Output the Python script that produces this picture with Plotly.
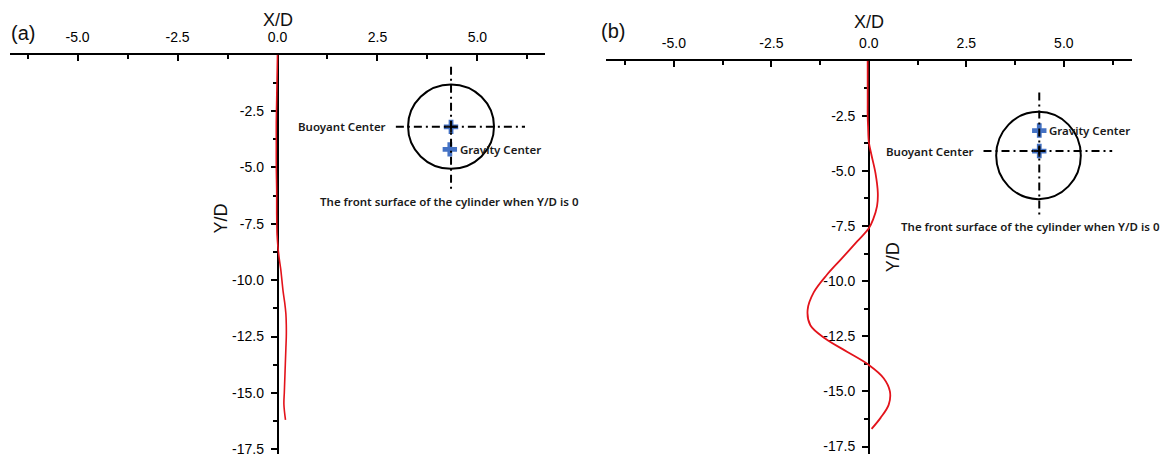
import plotly.graph_objects as go

# wake trajectory of panel (a): Y/D positions and X/D offsets
a_yd = [0, -1, -2, -3, -4, -5, -6, -7, -8, -8.5, -9, -9.5, -10, -10.5, -11,
        -11.5, -12, -12.5, -13, -13.5, -14, -14.5, -15, -15.5, -16.2]
a_xd = [0.0, -0.01, -0.02, -0.03, -0.03, -0.03, -0.02, -0.02, -0.01, 0.01, 0.04,
        0.08, 0.11, 0.14, 0.18, 0.21, 0.22, 0.22, 0.21, 0.2, 0.19, 0.18, 0.17,
        0.16, 0.2]

# wake trajectory of panel (b)
b_yd = [0, -1, -2, -2.5, -3, -3.7, -4.3, -5.1, -6.0, -6.6, -7.2, -7.6, -8.2,
        -9.0, -9.7, -10.5, -11.3, -12.0, -12.6, -13.2, -13.8, -14.4, -15.0,
        -15.6, -16.2, -16.7]
b_xd = [-0.03, -0.03, -0.03, -0.03, -0.02, 0.0, 0.07, 0.17, 0.23, 0.21, 0.11,
        0.0, -0.3, -0.71, -1.07, -1.41, -1.57, -1.5, -1.12, -0.56, 0.0, 0.38,
        0.54, 0.51, 0.3, 0.07]

# cylinder sketch: centres of buoyancy and gravity (X/D, Y/D)
a_buoyant = (4.34, -3.2)
a_gravity = (4.31, -4.2)
b_buoyant = (4.37, -4.1)
b_gravity = (4.37, -3.17)

x_ticks = [-5.0, -2.5, 0.0, 2.5, 5.0]
y_ticks = [-17.5, -15.0, -12.5, -10.0, -7.5, -5.0, -2.5]
y_minor = [-1.25, -3.75, -6.25, -8.75, -11.25, -13.75, -16.25]

# the page body adds an 8px margin, so the figure is a bit smaller
OFF = 8
W, H = 1170 - OFF, 457 - OFF


def px(x):
    return (x - OFF) / W


def py(y):
    return 1 - (y - OFF) / H


red = "#e3131b"
blue = "#4472c4"
dashdot = "8px,4px,2px,4px"
tick_font = dict(family="Liberation Sans", size=14, color="#000000")
note_font = dict(family="Noto Sans", size=11.5, color="#1a1a1a", weight=600)

fig = go.Figure()

fig.add_scatter(x=a_xd, y=a_yd, xaxis="x", yaxis="y", mode="lines",
                line=dict(color=red, width=1.6, shape="spline"),
                showlegend=False, hoverinfo="skip")
fig.add_scatter(x=b_xd, y=b_yd, xaxis="x2", yaxis="y2", mode="lines",
                line=dict(color=red, width=1.8, shape="spline"),
                showlegend=False, hoverinfo="skip")


def add_sketch(fig, xr, yr, buoyant, gravity, circle, hline, vline, note_x):
    # blue crosses for the two centres
    fig.add_scatter(x=[buoyant[0], gravity[0]], y=[buoyant[1], gravity[1]],
                    xaxis=xr, yaxis=yr, mode="markers",
                    marker=dict(symbol="cross", size=12, color=blue),
                    showlegend=False, hoverinfo="skip")
    # cylinder outline
    cx, cy, rx, ry = circle
    fig.add_shape(type="circle", xref=xr, yref=yr, x0=cx - rx, x1=cx + rx,
                  y0=cy - ry, y1=cy + ry, line=dict(color="black", width=2),
                  layer="above")
    # dash-dot crosshair
    fig.add_shape(type="line", xref=xr, yref=yr, x0=hline[0], x1=hline[1],
                  y0=buoyant[1], y1=buoyant[1],
                  line=dict(color="black", width=2, dash=dashdot), layer="above")
    fig.add_shape(type="line", xref=xr, yref=yr, x0=buoyant[0], x1=buoyant[0],
                  y0=vline[0], y1=vline[1],
                  line=dict(color="black", width=2, dash=dashdot), layer="above")
    fig.add_scatter(x=[buoyant[0]], y=[buoyant[1]], xaxis=xr, yaxis=yr,
                    mode="markers",
                    marker=dict(symbol="cross-thin", size=8,
                                line=dict(color="#111111", width=2)),
                    showlegend=False, hoverinfo="skip")
    # labels
    fig.add_annotation(x=hline[0] - 0.2, y=buoyant[1], xref=xr, yref=yr,
                       text="Buoyant Center", showarrow=False, xanchor="right",
                       font=note_font)
    fig.add_annotation(x=gravity[0] + 0.2, y=gravity[1], xref=xr, yref=yr,
                       text="Gravity Center", showarrow=False, xanchor="left",
                       font=note_font)
    fig.add_annotation(x=note_x, y=vline[1] - 0.45, xref=xr, yref=yr,
                       text="The front surface of the cylinder when Y/D is 0",
                       showarrow=False, xanchor="center", font=note_font)


add_sketch(fig, "x", "y", a_buoyant, a_gravity,
           circle=(4.34, -3.19, 1.075, 1.87), hline=(2.96, 6.19),
           vline=(-0.53, -6.08), note_x=4.31)
add_sketch(fig, "x2", "y2", b_buoyant, b_gravity,
           circle=(4.35, -4.3, 1.085, 1.98), hline=(2.94, 6.24),
           vline=(-1.44, -7.07), note_x=4.14)


def x_axis(domain, rng, anchor):
    return dict(domain=domain, range=rng, anchor=anchor, side="top",
                showline=True, linecolor="black", linewidth=1.5,
                layer="below traces",
                ticks="inside", ticklen=7, tickwidth=1.5, tickcolor="black",
                tickvals=x_ticks, ticktext=[f"{v:.1f}" for v in x_ticks],
                tickfont=tick_font, ticklabelstandoff=5,
                minor=dict(dtick=1.25, tick0=0, ticks="inside", ticklen=5,
                           tickwidth=1.5, tickcolor="black"),
                showgrid=False, zeroline=False, fixedrange=True)


def y_axis(domain, rng, position):
    return dict(domain=domain, range=rng, anchor="free", position=position,
                side="left", showline=True, linecolor="black", linewidth=1.5,
                layer="below traces",
                ticks="outside", ticklen=6, tickwidth=1.5, tickcolor="black",
                tickvals=y_ticks, ticktext=[f"{v:.1f}" for v in y_ticks],
                tickfont=tick_font, ticklabelstandoff=4,
                ticklabeloverflow="allow",
                minor=dict(tickvals=y_minor, ticks="outside", ticklen=4,
                           tickwidth=1.5, tickcolor="black"),
                showgrid=False, zeroline=False, fixedrange=True)


fig.update_layout(
    width=W, height=H,
    margin=dict(l=0, r=0, t=0, b=0),
    paper_bgcolor="white", plot_bgcolor="rgba(0,0,0,0)",
    xaxis=x_axis([px(10), px(545)], [-6.69, 6.69], "y"),
    yaxis=y_axis([0, py(55)], [-(457 - 55) / 22.7, 0], px(277.5)),
    xaxis2=x_axis([px(606), px(1131.7)], [-6.74, 6.74], "y2"),
    yaxis2=y_axis([0, py(61)], [-(457 - 61) / 22.2, 0], px(868.8)),
)

axis_font = dict(family="Liberation Sans", size=18, color="#111111")
for x, y, txt, ang in [(277.5, 20, "X/D", 0), (868.5, 22, "X/D", 0),
                       (221, 220, "Y/D", -90), (893, 259, "Y/D", -90)]:
    fig.add_annotation(x=px(x), y=py(y), xref="paper", yref="paper",
                       text=txt, textangle=ang, showarrow=False,
                       xanchor="center", yanchor="middle", font=axis_font)

panel_font = dict(family="Liberation Sans", size=20, color="#111111")
for x, y, txt in [(23, 33, "(a)"), (613, 31, "(b)")]:
    fig.add_annotation(x=px(x), y=py(y), xref="paper", yref="paper",
                       text=txt, showarrow=False, xanchor="center",
                       yanchor="middle", font=panel_font)

fig.write_html("out.html")
